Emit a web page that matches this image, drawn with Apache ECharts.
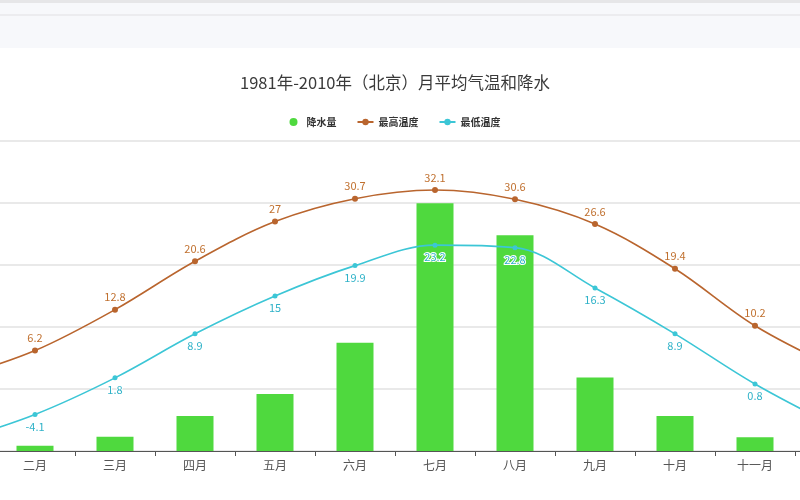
<!DOCTYPE html>
<html>
<head>
<meta charset="utf-8">
<script src="https://cdn.jsdelivr.net/npm/echarts@6/dist/echarts.min.js"></script>
<style>
html,body{margin:0;padding:0;width:800px;height:500px;overflow:hidden;background:#fff;}
#topbar{position:absolute;left:0;top:0;width:800px;height:48px;background:#f7f8fb;border-top:3px solid #e6e6e8;box-sizing:border-box;}
#topbar .ln{position:absolute;left:0;top:11px;width:800px;height:2px;background:#ececef;}
#chart{position:absolute;left:-85px;top:0;width:960px;height:500px;}
</style>
</head>
<body>
<div id="topbar"><div class="ln"></div></div>
<div id="chart"></div>
<script>
const months = ['一月','二月','三月','四月','五月','六月','七月','八月','九月','十月','十一月','十二月'];
const precipitation = [2.8, 3.4, 9.2, 22.6, 36.8, 69.9, 159.8, 139.2, 47.5, 22.6, 8.8, 2.6];
const highTemp = [1.8, 6.2, 12.8, 20.6, 27, 30.7, 32.1, 30.6, 26.6, 19.4, 10.2, 3.5];
const lowTemp = [-8.4, -4.1, 1.8, 8.9, 15, 19.9, 23.2, 22.8, 16.3, 8.9, 0.8, -6.0];
const titleText = '1981年-2010年（北京）月平均气温和降水';
const seriesNames = ['降水量', '最高温度', '最低温度'];

const chart = echarts.init(document.getElementById('chart'));
const FONT = '"Noto Sans CJK SC", "Noto Sans", sans-serif';
chart.setOption({
  animation: false,
  textStyle: { fontFamily: FONT },
  title: {
    text: titleText,
    left: 'center',
    top: 69,
    textStyle: { fontSize: 16.5, fontWeight: 'normal', color: '#3a3a3a', fontFamily: FONT }
  },
  legend: {
    data: [{ name: seriesNames[0], icon: 'circle' }, seriesNames[1], seriesNames[2]],
    top: 112,
    left: 'center',
    itemGap: 20,
    itemWidth: 16,
    itemHeight: 8,
    textStyle: { fontSize: 10, color: '#333', fontWeight: 'bold', fontFamily: FONT }
  },
  grid: { left: 0, right: 0, top: 141, bottom: 49, containLabel: false },
  xAxis: {
    type: 'category',
    data: months,
    boundaryGap: true,
    axisLine: { onZero: false, lineStyle: { color: '#555', width: 1 } },
    axisTick: { show: true, length: 5, lineStyle: { color: '#555' } },
    axisLabel: { color: '#555', fontSize: 12, margin: 8, fontFamily: FONT }
  },
  yAxis: [
    {
      type: 'value', min: -10, max: 40, interval: 10,
      axisLine: { show: false }, axisTick: { show: false }, axisLabel: { show: false },
      splitLine: { lineStyle: { color: '#e2e2e2', width: 1.5 } }
    },
    {
      type: 'value', min: 0, max: 200, interval: 40,
      axisLine: { show: false }, axisTick: { show: false }, axisLabel: { show: false },
      splitLine: { show: false }
    }
  ],
  series: [
    {
      name: seriesNames[0], type: 'bar', yAxisIndex: 1, data: precipitation,
      barWidth: 37,
      itemStyle: { color: '#4fd93e' }
    },
    {
      name: seriesNames[1], type: 'line', yAxisIndex: 0, data: highTemp,
      smooth: 0.35, symbol: 'circle', symbolSize: 6,
      lineStyle: { color: '#b9652e', width: 1.6 },
      itemStyle: { color: '#b9652e' },
      label: { show: true, position: 'top', color: '#c0702f', fontSize: 11, distance: 4 }
    },
    {
      name: seriesNames[2], type: 'line', yAxisIndex: 0, data: lowTemp,
      smooth: 0.35, symbol: 'circle', symbolSize: 5,
      lineStyle: { color: '#3cc6d6', width: 1.6 },
      itemStyle: { color: '#3cc6d6' },
      label: { show: true, position: 'bottom', color: '#2fb2c8', fontSize: 11, distance: 4,
               textBorderColor: '#fff', textBorderWidth: 2 }
    }
  ]
});
</script>
</body>
</html>
